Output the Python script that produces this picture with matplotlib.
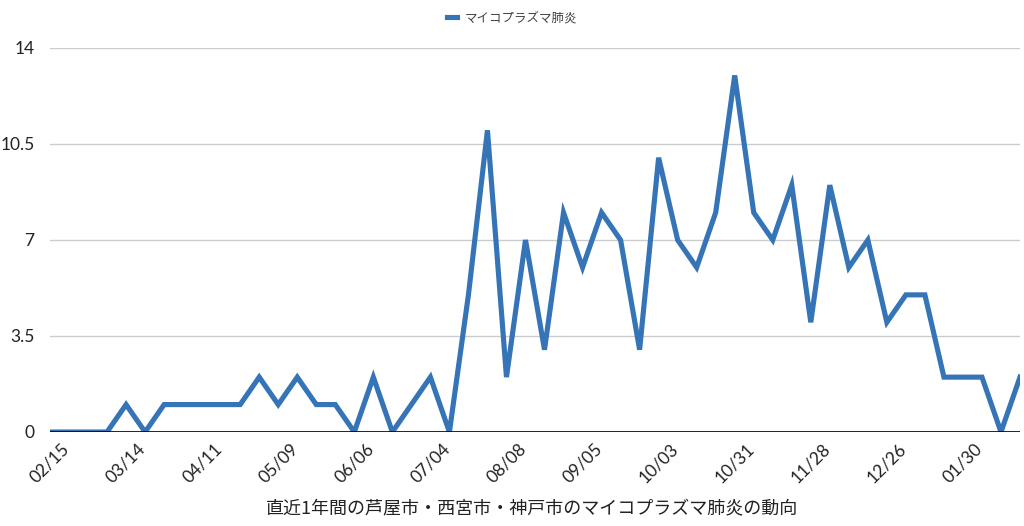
import matplotlib
matplotlib.use("Agg")
import matplotlib.pyplot as plt

plt.rcParams['font.family'] = ['Noto Sans CJK JP', 'DejaVu Sans']

# weekly counts, 52 weeks
cases = [0, 0, 0, 0, 1, 0, 1, 1, 1, 1,
         1, 2, 1, 2, 1, 1, 0, 2, 0, 1,
         2, 0, 5, 11, 2, 7, 3, 8, 6, 8,
         7, 3, 10, 7, 6, 8, 13, 8, 7, 9,
         4, 9, 6, 7, 4, 5, 5, 2, 2, 2,
         0, 2]
tick_labels = ['02/15', '03/14', '04/11', '05/09', '06/06', '07/04', '08/08',
               '09/05', '10/03', '10/31', '11/28', '12/26', '01/30']
y_ticks = [0, 3.5, 7, 10.5, 14]
y_tick_labels = ['0', '3.5', '7', '10.5', '14']

fig = plt.figure(figsize=(10.24, 5.26), dpi=100)
ax = fig.add_axes([50 / 1024, 94 / 526, 970 / 1024, 384 / 526])

ax.plot(range(len(cases)), cases, color='#3574b6', lw=3.7,
        label='マイコプラズマ肺炎', solid_joinstyle='miter', zorder=3)

ax.set_xlim(0, len(cases) - 1)
ax.set_ylim(0, 14)
ax.set_yticks(y_ticks)
ax.set_yticklabels(y_tick_labels, fontsize=12.5, color='#222222',
                   family='Lato')
ax.tick_params(axis='y', length=0, pad=11)
ax.grid(axis='y', color='#cccccc', lw=1)
ax.axhline(0, color='black', lw=1.2, zorder=4)

ax.set_xticks(range(0, len(cases), 4))
ax.set_xticklabels(tick_labels, rotation=45, ha='center', fontsize=12.5,
                   color='#222222', family='Lato')
ax.tick_params(axis='x', length=0, pad=6)

for s in ax.spines.values():
    s.set_visible(False)

fig.text(532 / 1024, 18 / 526,
         '直近1年間の芦屋市・西宮市・神戸市のマイコプラズマ肺炎の動向',
         fontsize=13, color='#222222', ha='center', va='center')

fig.legend(loc='upper center', bbox_to_anchor=(0.5, 1.0), frameon=False,
           fontsize=9, handlelength=0.8, handletextpad=0.6,
           labelcolor='#444444')

fig.savefig('out.png', dpi=100)
